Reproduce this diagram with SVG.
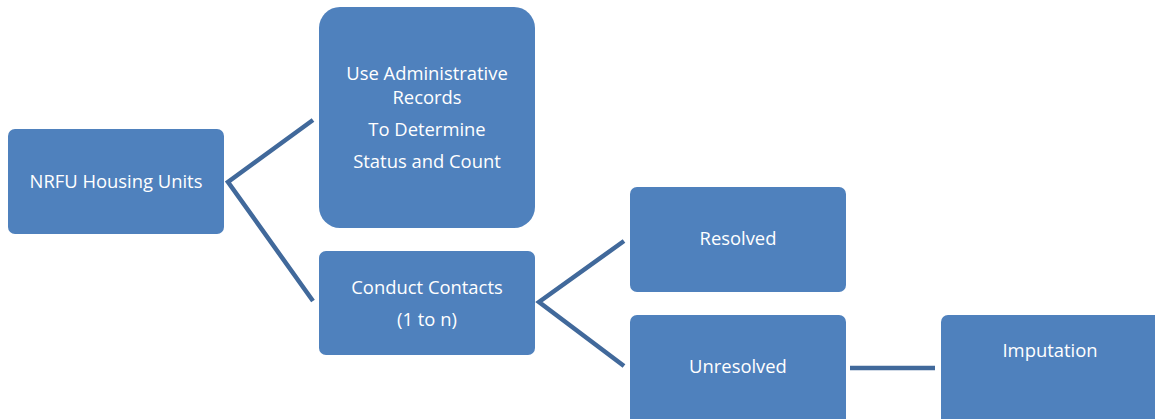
<svg xmlns="http://www.w3.org/2000/svg" width="1155" height="419" viewBox="0 0 1155 419">
  <style>
    .box { fill: #4F81BD; }
    .lbl { fill: #FFFFFF; font-family: "Open Sans", "Liberation Sans", sans-serif; font-size: 18.4px; text-anchor: middle; }
    .link { stroke: #41699B; stroke-width: 4.5; fill: none; stroke-linejoin: miter; }
  </style>
  <rect width="1155" height="419" fill="#FFFFFF"/>

  <g id="connectors">
    <polyline class="link" points="313,120 228,182 313,301"/>
    <polyline class="link" points="624,241 539,302 624,366"/>
    <line class="link" x1="850" y1="368" x2="935" y2="368"/>
  </g>

  <g id="nrfu">
    <rect class="box" x="8" y="129" width="216" height="105" rx="7"/>
    <text class="lbl" x="116" y="188">NRFU Housing Units</text>
  </g>

  <g id="admin-records">
    <rect class="box" x="319" y="7" width="216" height="221" rx="21"/>
    <text class="lbl" x="427" y="80">Use Administrative</text>
    <text class="lbl" x="427" y="104">Records</text>
    <text class="lbl" x="427" y="136">To Determine</text>
    <text class="lbl" x="427" y="168">Status and Count</text>
  </g>

  <g id="conduct-contacts">
    <rect class="box" x="319" y="251" width="216" height="104" rx="7"/>
    <text class="lbl" x="427" y="294">Conduct Contacts</text>
    <text class="lbl" x="427" y="326">(1 to n)</text>
  </g>

  <g id="resolved">
    <rect class="box" x="630" y="187" width="216" height="105" rx="7"/>
    <text class="lbl" x="738" y="245">Resolved</text>
  </g>

  <g id="unresolved">
    <rect class="box" x="630" y="315" width="216" height="110" rx="7"/>
    <text class="lbl" x="738" y="373">Unresolved</text>
  </g>

  <g id="imputation">
    <rect class="box" x="941" y="315" width="220" height="110" rx="7"/>
    <text class="lbl" x="1050" y="357">Imputation</text>
  </g>
</svg>
